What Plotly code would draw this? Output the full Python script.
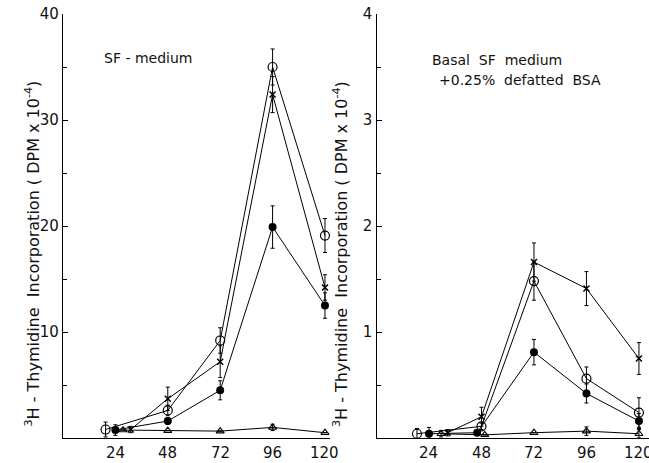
import plotly.graph_objects as go
from plotly.subplots import make_subplots

# ---- data: left panel, SF-medium (DPM x 10^-4) ----
L_open_x = [19.5, 48, 72, 96, 120]
L_open_y = [0.8, 2.6, 9.2, 35.0, 19.1]
L_open_err = [0.7, 0.5, 1.2, 1.7, 1.6]

L_cross_x = [31, 48, 72, 96, 120]
L_cross_y = [0.8, 3.7, 7.2, 32.4, 14.2]
L_cross_err = [0.3, 1.1, 1.5, 1.7, 1.2]

L_fill_x = [24, 48, 72, 96, 120]
L_fill_y = [0.75, 1.6, 4.5, 19.9, 12.5]
L_fill_err = [0.5, 0.3, 0.9, 2.0, 1.2]

L_tri_x = [27.5, 48, 72, 96, 120]
L_tri_y = [0.75, 0.7, 0.65, 1.0, 0.5]
L_tri_err = [0, 0, 0, 0.3, 0]

# ---- data: right panel, basal SF medium + 0.25% defatted BSA ----
R_open_x = [18.5, 48, 72, 96, 120]
R_open_y = [0.04, 0.11, 1.48, 0.56, 0.24]
R_open_err = [0.05, 0.03, 0.18, 0.11, 0.14]

R_cross_x = [32.5, 48, 72, 96, 120]
R_cross_y = [0.05, 0.2, 1.66, 1.41, 0.75]
R_cross_err = [0.03, 0.09, 0.18, 0.16, 0.15]

R_fill_x = [24, 46, 72, 96, 120]
R_fill_y = [0.04, 0.05, 0.81, 0.42, 0.16]
R_fill_err = [0.06, 0.02, 0.12, 0.09, 0.07]

R_tri_x = [29.5, 49.5, 72, 96, 120]
R_tri_y = [0.04, 0.03, 0.05, 0.065, 0.04]
R_tri_err = [0.03, 0, 0, 0.04, 0.04]

x_ticks = [24, 48, 72, 96, 120]
left_yticks = [10, 20, 30, 40]
right_yticks = [1, 2, 3, 4]

W, H = 649, 463
FONT = "DejaVu Sans"

fig = make_subplots(rows=1, cols=2)

series_style = {
    "open": dict(symbol="circle-open", size=9, color="black", line=dict(width=1.2, color="black")),
    "fill": dict(symbol="circle", size=8, color="black"),
    "cross": dict(symbol="x-thin-open", size=6, color="black", line=dict(width=1.5, color="black")),
    "tri": dict(symbol="triangle-up-open", size=7, color="black", line=dict(width=1.1, color="black")),
}

def add(x, y, err, kind, col):
    fig.add_trace(go.Scatter(
        x=x, y=y, mode="lines+markers",
        line=dict(color="black", width=1),
        marker=series_style[kind],
        error_y=dict(type="data", array=err, visible=True, color="black", thickness=1, width=2),
        showlegend=False, cliponaxis=False,
    ), row=1, col=col)

add(L_tri_x, L_tri_y, L_tri_err, "tri", 1)
add(L_fill_x, L_fill_y, L_fill_err, "fill", 1)
add(L_cross_x, L_cross_y, L_cross_err, "cross", 1)
add(L_open_x, L_open_y, L_open_err, "open", 1)

add(R_tri_x, R_tri_y, R_tri_err, "tri", 2)
add(R_fill_x, R_fill_y, R_fill_err, "fill", 2)
add(R_cross_x, R_cross_y, R_cross_err, "cross", 2)
add(R_open_x, R_open_y, R_open_err, "open", 2)

top, bot = 14, 25
plot_h = H - top - bot

xcommon = dict(showgrid=False, zeroline=False, showline=True, linecolor="black", linewidth=1.2,
               tickvals=x_ticks, ticks="", showticklabels=False)
fig.update_xaxes(xcommon)
fig.update_xaxes(domain=[63 / W, 330 / W], range=[0, 122.3], row=1, col=1)
fig.update_xaxes(domain=[376.5 / W, 1.0], range=[0, 124.6], row=1, col=2)

# x tick labels placed as annotations so they sit closer to the axis line
for xr in ("x", "x2"):
    for t in x_ticks:
        fig.add_annotation(xref=xr, yref="paper", x=t, y=0, yshift=-15,
                           text=str(t), showarrow=False, yanchor="middle",
                           font=dict(family=FONT, size=15, color="#111"))

ycommon = dict(showgrid=False, zeroline=False, showline=True, linecolor="black", linewidth=1.2,
               ticks="inside", ticklen=5, tickcolor="black", tickwidth=1,
               tickfont=dict(family=FONT, size=15, color="#111"))
fig.update_yaxes(ycommon)
fig.update_yaxes(range=[0, 40], tickvals=left_yticks,
                 minor=dict(ticks="inside", ticklen=4, dtick=5, tick0=0, tickcolor="black"),
                 row=1, col=1)
fig.update_yaxes(range=[0, 4], tickvals=right_yticks,
                 minor=dict(ticks="inside", ticklen=4, dtick=0.5, tick0=0, tickcolor="black"),
                 row=1, col=2)

ytitle = "<sup>3</sup>H - Thymidine  Incorporation ( DPM x 10<sup>-4</sup>)"
for xpix in (20, 340):
    fig.add_annotation(xref="paper", yref="paper", x=xpix / W, y=(438 - 254) / plot_h,
                       text=ytitle, textangle=-90, showarrow=False,
                       font=dict(family=FONT, size=16, color="#111"))

fig.add_annotation(xref="paper", yref="paper", x=102 / W, y=(438 - 48) / plot_h,
                   xanchor="left", text="SF - medium", showarrow=False,
                   font=dict(family=FONT, size=14, color="#111"))
fig.add_annotation(xref="paper", yref="paper", x=430 / W, y=(438 - 50) / plot_h,
                   xanchor="left", text="Basal  SF  medium", showarrow=False,
                   font=dict(family=FONT, size=14, color="#111"))
fig.add_annotation(xref="paper", yref="paper", x=437 / W, y=(438 - 70) / plot_h,
                   xanchor="left", text="+0.25%  defatted  BSA", showarrow=False,
                   font=dict(family=FONT, size=14, color="#111"))

fig.update_layout(
    width=W, height=H,
    margin=dict(l=0, r=0, t=top, b=bot),
    paper_bgcolor="white", plot_bgcolor="white",
    font=dict(family=FONT, color="#111"),
)

# drop the default body margin so the figure fills the window exactly
fig.write_html("out.html", config={"displayModeBar": False},
               post_script="document.body.style.margin='0';")
